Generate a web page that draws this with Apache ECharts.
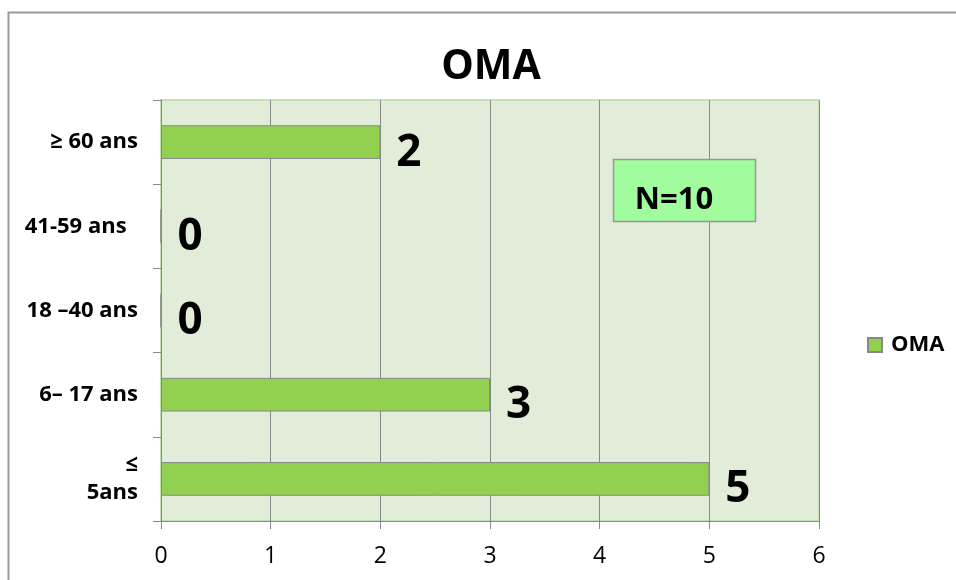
<!DOCTYPE html>
<html>
<head>
<meta charset="utf-8">
<script src="https://cdn.jsdelivr.net/npm/echarts@6/dist/echarts.min.js"></script>
<style>
  html, body { margin: 0; padding: 0; background: #fff; }
  #chart { width: 956px; height: 580px; }
</style>
</head>
<body>
<div id="chart"></div>
<script>
// age groups, bottom to top
var categories = ['≤\n5ans', '6– 17 ans', '18 –40 ans', '41-59 ans  ', '≥ 60 ans'];
var omaValues = [5, 3, 0, 0, 2];
var xTicks = [0, 1, 2, 3, 4, 5, 6];
var seriesName = 'OMA';
var noteText = 'N=10';

var font = '"Open Sans", Lato, sans-serif';
var chart = echarts.init(document.getElementById('chart'), null, { renderer: 'canvas' });

var option = {
  animation: false,
  backgroundColor: '#fff',
  textStyle: { fontFamily: font },
  title: {
    text: 'OMA',
    left: 486,
    top: 42,
    textAlign: 'center',
    textStyle: { fontSize: 41, fontWeight: 'bold', color: '#000', fontFamily: font }
  },
  legend: {
    data: [seriesName],
    left: 862,
    top: 329,
    icon: 'rect',
    itemWidth: 14,
    itemHeight: 14,
    itemGap: 6,
    textStyle: { fontSize: 22, fontWeight: 'bold', color: '#000', fontFamily: font, padding: [0, 0, 0, 4] }
  },
  grid: {
    left: 161,
    right: 137,
    top: 100,
    bottom: 59,
    show: true,
    backgroundColor: '#e1edd9',
    borderColor: '#c6e0b4',
    borderWidth: 2
  },
  xAxis: {
    type: 'value',
    min: xTicks[0],
    max: xTicks[xTicks.length - 1],
    interval: 1,
    axisLine: { show: true, lineStyle: { color: '#888', width: 1 } },
    axisTick: { show: true, length: 8, lineStyle: { color: '#888' } },
    axisLabel: { fontSize: 23, color: '#000', margin: 24, fontFamily: font },
    splitLine: { show: true, lineStyle: { color: '#888', width: 1 } }
  },
  yAxis: {
    type: 'category',
    data: categories,
    axisLine: { show: true, lineStyle: { color: '#888', width: 1 } },
    axisTick: { show: true, length: 8, lineStyle: { color: '#888' } },
    axisLabel: {
      fontSize: 22, fontWeight: 'bold', color: '#000', margin: 23,
      align: 'right', lineHeight: 28, fontFamily: font
    },
    splitLine: { show: false }
  },
  series: [{
    name: seriesName,
    type: 'bar',
    data: omaValues,
    barWidth: '40%',
    itemStyle: { color: '#92d050', borderColor: '#888', borderWidth: 1 },
    label: {
      show: true,
      position: 'right',
      distance: 16,
      offset: [0, 11],
      fontSize: 44,
      fontWeight: 'bold',
      color: '#000',
      fontFamily: font
    }
  }],
  graphic: [
    {
      type: 'rect',
      shape: { x: 8.5, y: 12.5, width: 1000, height: 700 },
      style: { fill: 'none', stroke: '#999', lineWidth: 2 },
      silent: true
    },
    {
      type: 'rect',
      shape: { x: 613.5, y: 159.5, width: 142, height: 62 },
      style: { fill: '#a0fc9c', stroke: '#999', lineWidth: 1.5 },
      z: 10
    },
    {
      type: 'text',
      x: 674,
      y: 200,
      style: {
        text: noteText,
        fill: '#000',
        font: 'bold 31px ' + font,
        textAlign: 'center',
        textVerticalAlign: 'middle'
      },
      z: 11
    }
  ]
};

chart.setOption(option);
</script>
</body>
</html>
